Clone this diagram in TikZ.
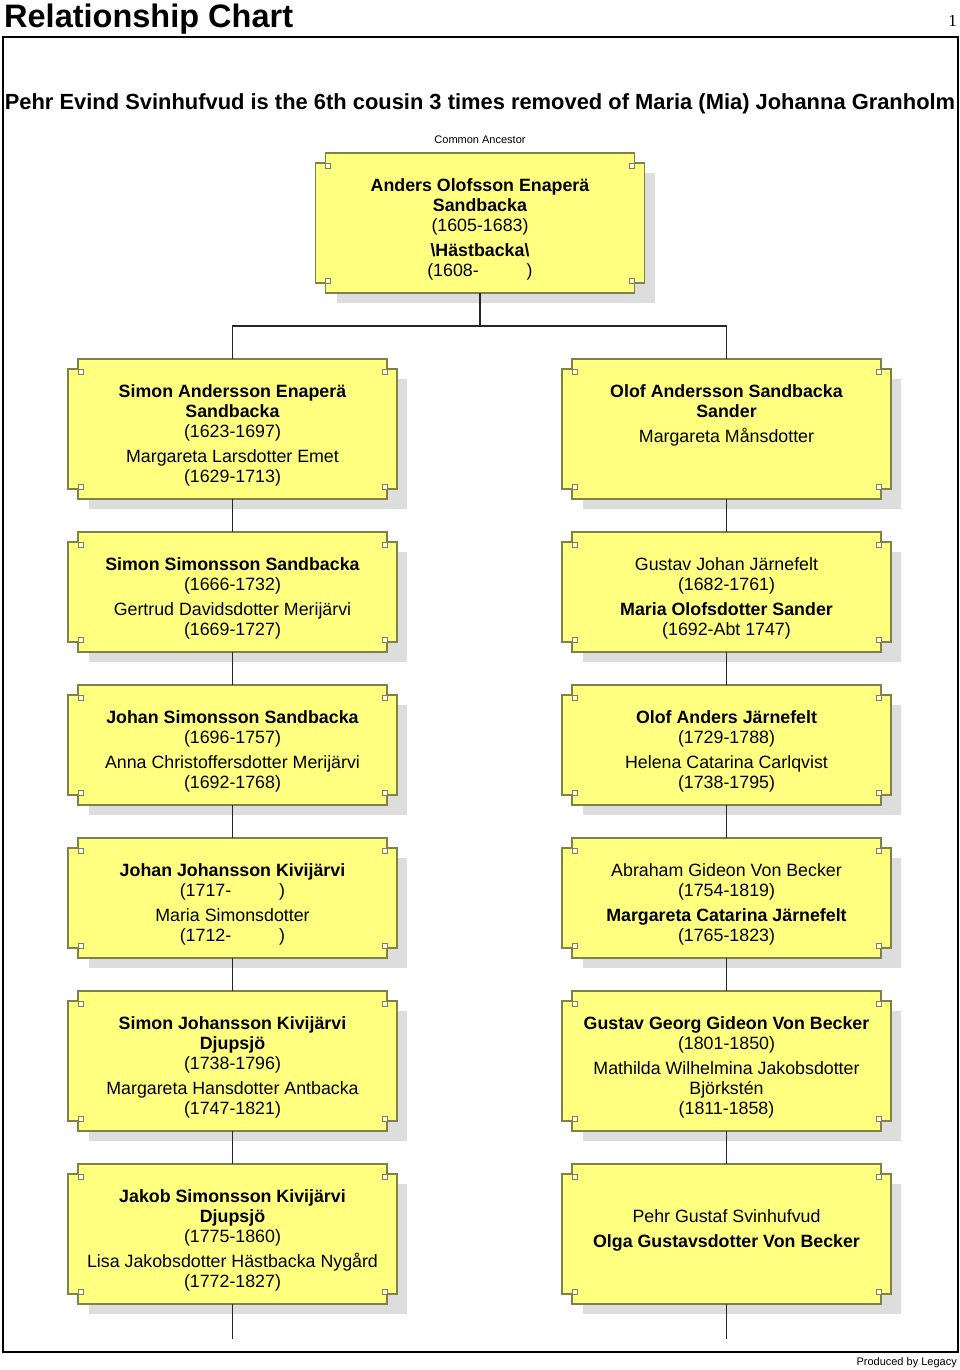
\documentclass[tikz,border=0pt]{standalone}
\usepackage{fontspec}
\setmainfont{Liberation Sans}
\newfontfamily\pagefont{Liberation Serif}
\usetikzlibrary{positioning}

\definecolor{cardfill}{HTML}{FFFF80}
\definecolor{cardline}{HTML}{80804A}
\definecolor{cardshade}{HTML}{DDDDDD}
\newcommand\cardfont{\fontsize{17.8}{20}\selectfont}

\begin{document}
\begin{tikzpicture}[x=1pt,y=-1pt, node distance=33pt and 165pt,
  card/.style={minimum width=329pt,minimum height=#1,inner sep=0pt,outer sep=0pt},
  who/.style={font=\cardfont,align=center,inner sep=0pt},
  cardedge/.style={draw=cardline,fill=cardfill,line width=1.1pt},
  cardknob/.style={draw=cardline,fill=white,line width=0.8pt},
  tie/.style={line width=1.9pt,black!85}]
\useasboundingbox (0,0) rectangle (960,1370);
\draw[line width=1.5pt] (3,37) rectangle (958,1352);
\node[font=\bfseries\fontsize{32.5}{36}\selectfont,anchor=base west,inner sep=0pt] (title) at (4,28) {Relationship Chart};
\node[font=\pagefont\fontsize{17}{20}\selectfont,anchor=base east,inner sep=0pt] (pageno) at (957,27) {1};
\node[font=\bfseries\fontsize{21.9}{26}\selectfont,anchor=base,inner sep=0pt] (subtitle) at (480,110) {Pehr Evind Svinhufvud is the 6th cousin 3 times removed of Maria (Mia) Johanna Granholm};
\node[font=\fontsize{11}{13}\selectfont,anchor=base,inner sep=0pt] (common) at (480,143) {Common Ancestor};
\node[font=\fontsize{11}{13}\selectfont,anchor=base east,inner sep=0pt] (credit) at (957,1365) {Produced by Legacy};

% the cards
\node[card=140pt] (anc) at (480,223) {};
\node[card=140pt] (l1) at (232.5,429) {};
\node[card=120pt,below=of l1] (l2) {};
\node[card=120pt,below=of l2] (l3) {};
\node[card=120pt,below=of l3] (l4) {};
\node[card=140pt,below=of l4] (l5) {};
\node[card=140pt,below=of l5] (l6) {};
\node[card=140pt,right=of l1] (r1) {};
\node[card=120pt,right=of l2] (r2) {};
\node[card=120pt,right=of l3] (r3) {};
\node[card=120pt,right=of l4] (r4) {};
\node[card=140pt,right=of l5] (r5) {};
\node[card=140pt,right=of l6] (r6) {};

\foreach \c in {anc,l1,l2,l3,l4,l5,l6,r1,r2,r3,r4,r5,r6} {
  \fill[cardshade] ([shift={(21,20)}]\c.north west) rectangle ([shift={(10,10)}]\c.south east);
  \draw[cardedge] ([shift={(10,0)}]\c.north west) -- ([shift={(-10,0)}]\c.north east) -- ++(0,10) -- ++(10,0)
    -- ([shift={(0,-10)}]\c.south east) -- ++(-10,0) -- ++(0,10) -- ([shift={(10,0)}]\c.south west)
    -- ++(0,-10) -- ++(-10,0) -- ([shift={(0,10)}]\c.north west) -- ++(10,0) -- cycle;
  \draw[cardknob] ([shift={(10,10)}]\c.north west) rectangle ++(5,5);
  \draw[cardknob] ([shift={(-10,10)}]\c.north east) rectangle ++(-5,5);
  \draw[cardknob] ([shift={(10,-10)}]\c.south west) rectangle ++(5,-5);
  \draw[cardknob] ([shift={(-10,-10)}]\c.south east) rectangle ++(-5,-5);
}

% lines of descent
\draw[tie] (anc.south) -- ++(0,33) coordinate (fork);
\draw[tie] (l1.north) |- (fork) -| (r1.north);
\foreach \a/\b in {l1/l2,l2/l3,l3/l4,l4/l5,l5/l6,r1/r2,r2/r3,r3/r4,r4/r5,r5/r6}
  \draw[tie] (\a.south) -- (\b.north);
\draw[tie] (l6.south) -- ++(0,35) coordinate (ltail);
\draw[tie] (r6.south) -- ++(0,35) coordinate (rtail);

% names
\node[who,below=25pt of anc.north] (ancwho) {\textbf{Anders Olofsson Enaperä}\\\textbf{Sandbacka}\\(1605-1683)\\[5pt]\textbf{\textbackslash Hästbacka\textbackslash}\\(1608-\hspace{48pt})};
\node[who,below=25pt of l1.north] (l1who) {\textbf{Simon Andersson Enaperä}\\\textbf{Sandbacka}\\(1623-1697)\\[5pt]Margareta Larsdotter Emet\\(1629-1713)};
\node[who,below=25pt of r1.north] (r1who) {\textbf{Olof Andersson Sandbacka}\\\textbf{Sander}\\[5pt]Margareta Månsdotter};
\node[who,below=25pt of l2.north] (l2who) {\textbf{Simon Simonsson Sandbacka}\\(1666-1732)\\[5pt]Gertrud Davidsdotter Merijärvi\\(1669-1727)};
\node[who,below=25pt of r2.north] (r2who) {Gustav Johan Järnefelt\\(1682-1761)\\[5pt]\textbf{Maria Olofsdotter Sander}\\(1692-Abt 1747)};
\node[who,below=25pt of l3.north] (l3who) {\textbf{Johan Simonsson Sandbacka}\\(1696-1757)\\[5pt]Anna Christoffersdotter Merijärvi\\(1692-1768)};
\node[who,below=25pt of r3.north] (r3who) {\textbf{Olof Anders Järnefelt}\\(1729-1788)\\[5pt]Helena Catarina Carlqvist\\(1738-1795)};
\node[who,below=25pt of l4.north] (l4who) {\textbf{Johan Johansson Kivijärvi}\\(1717-\hspace{48pt})\\[5pt]Maria Simonsdotter\\(1712-\hspace{48pt})};
\node[who,below=25pt of r4.north] (r4who) {Abraham Gideon Von Becker\\(1754-1819)\\[5pt]\textbf{Margareta Catarina Järnefelt}\\(1765-1823)};
\node[who,below=25pt of l5.north] (l5who) {\textbf{Simon Johansson Kivijärvi}\\\textbf{Djupsjö}\\(1738-1796)\\[5pt]Margareta Hansdotter Antbacka\\(1747-1821)};
\node[who,below=25pt of r5.north] (r5who) {\textbf{Gustav Georg Gideon Von Becker}\\(1801-1850)\\[5pt]Mathilda Wilhelmina Jakobsdotter\\Björkstén\\(1811-1858)};
\node[who,below=25pt of l6.north] (l6who) {\textbf{Jakob Simonsson Kivijärvi}\\\textbf{Djupsjö}\\(1775-1860)\\[5pt]Lisa Jakobsdotter Hästbacka Nygård\\(1772-1827)};
\node[who,below=45pt of r6.north] (r6who) {Pehr Gustaf Svinhufvud\\[5pt]\textbf{Olga Gustavsdotter Von Becker}};
\end{tikzpicture}
\end{document}
